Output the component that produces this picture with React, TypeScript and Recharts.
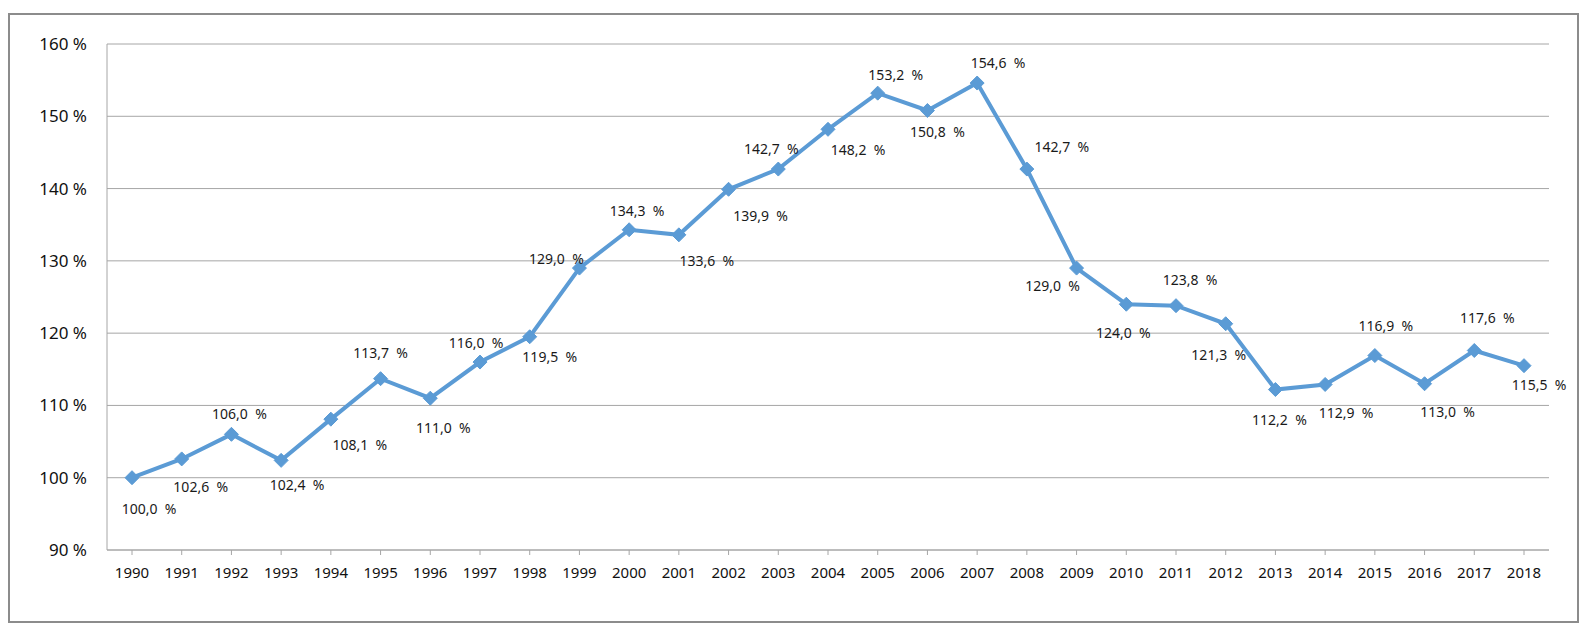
import React from 'react';
import { LineChart, Line, XAxis, YAxis, CartesianGrid, LabelList } from 'recharts';

// --- データ ---
const years = [
  '1990', '1991', '1992', '1993', '1994', '1995', '1996', '1997', '1998', '1999',
  '2000', '2001', '2002', '2003', '2004', '2005', '2006', '2007', '2008', '2009',
  '2010', '2011', '2012', '2013', '2014', '2015', '2016', '2017', '2018',
];
const values = [
  100.0, 102.6, 106.0, 102.4, 108.1, 113.7, 111.0, 116.0, 119.5, 129.0,
  134.3, 133.6, 139.9, 142.7, 148.2, 153.2, 150.8, 154.6, 142.7, 129.0,
  124.0, 123.8, 121.3, 112.2, 112.9, 116.9, 113.0, 117.6, 115.5,
];
const yTicks = [90, 100, 110, 120, 130, 140, 150, 160];

// label placement (center offset from the marker), as in the original
const labelOffsets: [number, number][] = [
  [17, 31], [19, 28], [8, -21], [16, 24], [29, 25], [0, -26], [13, 29], [-4, -20], [20, 20], [-23, -10],
  [8, -19], [28, 26], [32, 26], [-7, -21], [30, 20], [18, -19], [10, 21], [21, -21], [35, -23], [-24, 17],
  [-3, 28], [14, -26], [-7, 31], [4, 30], [21, 28], [11, -30], [23, 28], [13, -33], [15, 19],
];

const data = years.map((year, i) => ({ year, value: values[i] }));

const BLUE = '#5B9BD5';
const GRID = '#A6A6A6';
const FONT = '"Noto Sans", "Open Sans", sans-serif';

const fmt = (v: number) => `${v.toFixed(1).replace('.', ',')}\u00A0\u00A0%`;

function Diamond(props: any) {
  const { cx, cy } = props;
  if (cx == null || cy == null) return null;
  const r = 7;
  return (
    <polygon
      points={`${cx},${cy - r} ${cx + r},${cy} ${cx},${cy + r} ${cx - r},${cy}`}
      fill={BLUE}
      stroke={BLUE}
      strokeWidth={1}
    />
  );
}

function PointLabel(props: any) {
  const { x, y, value, index } = props;
  const [dx, dy] = labelOffsets[index] || [0, -20];
  return (
    <text
      x={x + dx}
      y={y + dy}
      textAnchor="middle"
      dominantBaseline="central"
      fontSize={14}
      fontFamily={FONT}
      fill="#1a1a1a"
    >
      {fmt(value)}
    </text>
  );
}

export default function App() {
  return (
    <div style={{ paddingTop: 5 }}>
      <div style={{ width: 1571, height: 610, border: '2px solid #8c8c8c', boxSizing: 'border-box' }}>
        <LineChart
          width={1567}
          height={606}
          data={data}
          margin={{ top: 29, right: 28, bottom: 41, left: 37 }}
        >
          <CartesianGrid horizontal vertical={false} stroke={GRID} strokeWidth={1} />
          <XAxis
            dataKey="year"
            stroke={GRID}
            tickSize={5}
            tickMargin={12}
            height={30}
            interval={0}
            padding={{ left: 25, right: 25 }}
            tick={{ fill: '#111', fontSize: 15, fontFamily: FONT }}
          />
          <YAxis
            domain={[90, 160]}
            ticks={yTicks}
            width={60}
            stroke={GRID}
            tickLine={false}
            tickSize={18}
            tickFormatter={(v: number) => `${v} %`}
            tick={{ fill: '#111', fontSize: 17, fontFamily: FONT }}
          />
          <Line
            dataKey="value"
            stroke={BLUE}
            strokeWidth={4}
            dot={<Diamond />}
            activeDot={false}
            isAnimationActive={false}
          >
            <LabelList dataKey="value" content={<PointLabel />} />
          </Line>
        </LineChart>
      </div>
    </div>
  );
}
